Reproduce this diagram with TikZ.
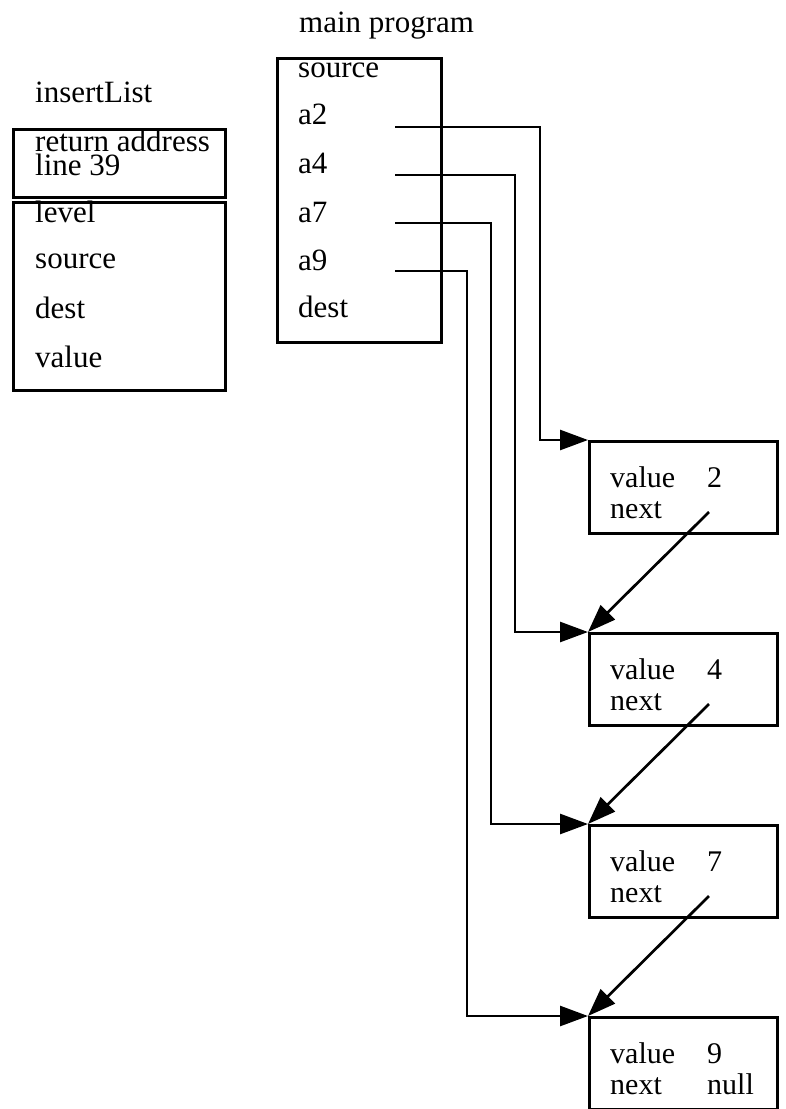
\documentclass[tikz,border=0pt]{standalone}
\usepackage{fontspec}
\setmainfont{Liberation Serif}
\usetikzlibrary{arrows.meta}
\tikzset{
  frame/.style={draw,line width=2.7pt,anchor=north west,inner sep=0pt},
  cell/.style={frame,minimum width=188pt,minimum height=92pt},
  word/.style={anchor=base west,inner sep=0pt},
  small/.style={word,font=\fontsize{30}{34}\selectfont},
  ptr/.style={line width=2.7pt,-{Triangle[length=28pt,width=20pt]}}
}
\begin{document}
\begin{tikzpicture}[x=1pt,y=-1pt,font=\fontsize{31}{36}\selectfont]
        \useasboundingbox (0,0) rectangle (785,1109);
        %%%%%%%%%% Frames %%%%%%%%%%
        \node (insTitle) at (35,102) [word] {insertList};
        \node (retBox) at (12,128) [frame,minimum width=212pt,minimum height=68pt] {};
        \node (locBox) at (12,201) [frame,minimum width=212pt,minimum height=188pt] {};
        \node (retA) at (35,175) [word,align=left,font=\fontsize{31}{24}\selectfont] {return address\\line 39};
        \node (iLevel) at (35,222) [word] {level};
        \node (iSource) at (35,268) [word] {source};
        \node (iDest) at (35,318) [word] {dest};
        \node (iValue) at (35,367) [word] {value};

        \node (mainTitle) at (299,32) [word] {main program};
        \node (mainBox) at (276,57) [frame,minimum width=164pt,minimum height=284pt] {};
        \node (mSource) at (298,77) [word] {source};
        \node (mA2) at (298,124) [word] {a2};
        \node (mA4) at (298,173) [word] {a4};
        \node (mA7) at (298,222) [word] {a7};
        \node (mA9) at (298,270) [word] {a9};
        \node (mDest) at (298,317) [word] {dest};

        %%%%%%%%%% List %%%%%%%%%%
        \node (n2) at (588,440) [cell] {};
        \node (n4) at (588,632) [cell] {};
        \node (n7) at (588,824) [cell] {};
        \node (n9) at (588,1016) [cell] {};
        \node (v2) at (610,487) [small] {value};
        \node (k2) at (707,487) [small] {2};
        \node (x2) at (610,518) [small] {next};
        \node (v4) at (610,679) [small] {value};
        \node (k4) at (707,679) [small] {4};
        \node (x4) at (610,710) [small] {next};
        \node (v7) at (610,871) [small] {value};
        \node (k7) at (707,871) [small] {7};
        \node (x7) at (610,902) [small] {next};
        \node (v9) at (610,1063) [small] {value};
        \node (k9) at (707,1063) [small] {9};
        \node (x9) at (610,1094) [small] {next};
        \node (z9) at (707,1094) [small] {null};

        \coordinate (pA2) at (395,127);
        \coordinate (pA4) at (395,175);
        \coordinate (pA7) at (395,223);
        \coordinate (pA9) at (395,271);
        \coordinate (nx2) at (709,512);
        \coordinate (nx4) at (709,704);
        \coordinate (nx7) at (709,896);

        %%%%%%%%% Arrows %%%%%%%%%
        \draw[ptr] (pA2) -| ([xshift=-48pt]n2.north west) -- (n2.north west);
        \draw[ptr] (pA4) -| ([xshift=-73pt]n4.north west) -- (n4.north west);
        \draw[ptr] (pA7) -| ([xshift=-97pt]n7.north west) -- (n7.north west);
        \draw[ptr] (pA9) -| ([xshift=-121pt]n9.north west) -- (n9.north west);
        \draw[ptr] (nx2) -- (n4.north west);
        \draw[ptr] (nx4) -- (n7.north west);
        \draw[ptr] (nx7) -- (n9.north west);
    \end{tikzpicture}
\end{document}
